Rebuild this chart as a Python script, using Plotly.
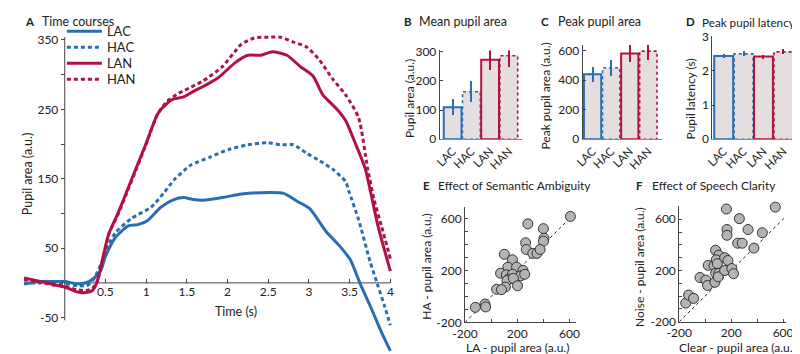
import plotly.graph_objects as go

W, H = 800, 354
FONT = "Lato"
AXC = "#444444"
TXT = "#222222"
BLUE = "#2A6DB0"
RED = "#B2123F"
BARFILL = "#E5DEDE"

# ---------------- Panel A: time courses ----------------
LAC_t = [-0.5, -0.3, -0.15, 0.0, 0.16, 0.27, 0.35, 0.44, 0.5, 0.62, 0.78, 0.9, 1.02, 1.18, 1.34, 1.46, 1.58, 1.70, 1.94, 2.17, 2.41, 2.69, 2.85, 3.01, 3.21, 3.37, 3.51, 3.63, 3.77, 3.89, 4.0]
LAC_v = [-1.5, 2, 2, 2, -1.5, 0.5, 6, 17, 38, 65, 82, 84, 90, 109, 120, 123, 120, 119, 123, 128, 130, 129, 118, 107, 74, 54, 33, -1.5, -38, -71, -98]

HAC_t = [-0.5, -0.3, -0.15, 0.0, 0.16, 0.27, 0.35, 0.46, 0.54, 0.62, 0.82, 1.06, 1.22, 1.34, 1.54, 1.78, 2.01, 2.25, 2.49, 2.65, 2.81, 2.97, 3.13, 3.29, 3.45, 3.49, 3.61, 3.75, 3.84, 3.93, 4.0]
HAC_v = [0, 0, 0, -1, -4, -4, 4, 31, 55, 72, 93, 109, 130, 148, 169, 181, 192, 199, 202, 199, 199, 187, 176, 164, 146, 132, 91, 31, -1.5, -34, -61]

LAN_t = [-0.5, -0.3, -0.15, 0.0, 0.15, 0.26, 0.34, 0.40, 0.46, 0.54, 0.66, 0.78, 0.9, 1.0, 1.14, 1.26, 1.34, 1.46, 1.58, 1.70, 1.89, 2.09, 2.25, 2.41, 2.55, 2.73, 2.89, 3.05, 3.17, 3.33, 3.45, 3.57, 3.69, 3.85, 4.0]
LAN_v = [7, 2, -2, -6, -13, -14, -11, 2, 32, 70, 102, 137, 172, 201, 243, 259, 265, 268, 276, 283, 296, 317, 328, 328, 333, 328, 312, 298, 271, 252, 234, 201, 165, 81, 17]

HAN_t = [-0.5, -0.3, -0.15, 0.0, 0.15, 0.26, 0.34, 0.40, 0.46, 0.54, 0.66, 0.78, 0.9, 1.0, 1.14, 1.26, 1.4, 1.55, 1.70, 1.94, 2.17, 2.33, 2.5, 2.65, 2.81, 2.97, 3.13, 3.29, 3.45, 3.61, 3.72, 3.80, 3.89, 4.0]
HAN_v = [5, 1, -3, -5, -10, -11, -8, 3, 30, 70, 100, 135, 170, 200, 243, 262, 273, 282, 291, 312, 344, 353, 354, 354, 347, 340, 321, 294, 271, 238, 165, 120, 82, 35]

A_xticks = [0.5, 1, 1.5, 2, 2.5, 3, 3.5, 4]
A_xticklabels = ["0.5", "1", "1.5", "2", "2.5", "3", "3.5", "4"]
A_yticks = [-50, 0, 50, 100, 150, 200, 250, 300, 350]
A_yticklabels = ["-50", "", "50", "", "150", "", "250", "", "350"]

# ---------------- Panels B-D: bars ----------------
conditions = ["LAC", "HAC", "LAN", "HAN"]
mean_area = [110, 163, 273, 287]
mean_area_err = [28, 36, 35, 38]
peak_area = [441, 485, 582, 598]
peak_area_err = [50, 55, 60, 63]
peak_latency = [2.44, 2.50, 2.42, 2.56]
peak_latency_err = [0.07, 0.07, 0.06, 0.07]

# ---------------- Panels E-F: scatter ----------------
E_LA = [-121, -47, -42, 101, 281, 400, 607, 405, 400, 264, 269, 319, 351, 375, 163, 128, 195, 244, 72, 116, 163, 227, 257, 133, 121, 170, 202, 109, 42, 79]
E_HA = [-84, -59, -81, 325, 560, 523, 617, 449, 426, 414, 362, 332, 332, 362, 283, 226, 226, 201, 179, 166, 171, 159, 171, 134, 122, 139, 82, 72, 55, 52]
F_clear = [-150, -128, -90, -40, 5, 18, 75, 23, 68, 80, 105, 85, 93, 80, 105, 100, 150, 150, 175, 205, 218, 163, 168, 168, 263, 330, 250, 285, 375, 440, 540]
F_noise = [-55, 8, -18, 145, 125, 83, 108, 240, 238, 358, 320, 283, 253, 178, 178, 150, 200, 300, 278, 215, 175, 680, 520, 475, 605, 520, 413, 413, 375, 495, 695]

sc_yticks = [-200, -100, 0, 100, 200, 300, 400, 500, 600]
sc_yticklabels = ["-200", "", "", "", "200", "", "", "", "600"]
sc_xticks = [-200, 0, 200, 400, 600]
sc_xticklabels = ["-200", "", "200", "", "600"]


def px(x):
    return x / W


def py(y):
    return 1 - y / H


fig = go.Figure()

# ---- A ----
series = [("LAC", LAC_t, LAC_v, BLUE, "solid"),
          ("HAC", HAC_t, HAC_v, BLUE, "4px,3px"),
          ("LAN", LAN_t, LAN_v, RED, "solid"),
          ("HAN", HAN_t, HAN_v, RED, "4px,3px")]
legend_rows = [17, 33.7, 50.3, 67]
legend_ids = ["legend", "legend2", "legend3", "legend4"]
for (name, t, v, c, d), lid in zip(series, legend_ids):
    fig.add_trace(go.Scatter(x=t, y=v, name=name, mode="lines",
                             line=dict(color=c, width=3, dash=d, shape="spline", smoothing=0.6),
                             xaxis="x", yaxis="y", showlegend=True, legend=lid))

A_xrange = [-0.5, 4.02]
A_yrange = [-102, 360]
A_xdom = [px(3.1), px(381)]
A_ydom = [py(352.6), py(18.8)]
x0pos = A_ydom[0] + (0 - A_yrange[0]) / (A_yrange[1] - A_yrange[0]) * (A_ydom[1] - A_ydom[0])
y0pos = A_xdom[0] + (0 - A_xrange[0]) / (A_xrange[1] - A_xrange[0]) * (A_xdom[1] - A_xdom[0])

tickfont = dict(family=FONT, size=12, color=TXT)

layout = dict(
    width=W, height=H, margin=dict(l=0, r=0, t=0, b=0),
    paper_bgcolor="white", plot_bgcolor="rgba(0,0,0,0)",
    font=dict(family=FONT, size=12, color=TXT),
    showlegend=True,
    xaxis=dict(domain=A_xdom, range=A_xrange, anchor="free", position=x0pos,
               showline=False, showgrid=False, zeroline=False,
               tickvals=A_xticks, ticktext=A_xticklabels, ticks="inside", ticklen=4,
               tickcolor=AXC, tickfont=tickfont),
    yaxis=dict(domain=A_ydom, range=A_yrange, anchor="free", position=y0pos,
               showline=False, showgrid=False, zeroline=False,
               tickvals=A_yticks, ticktext=A_yticklabels, ticks="outside", ticklen=4,
               tickcolor=AXC, tickfont=tickfont),
)
for lid, row in zip(legend_ids, legend_rows):
    layout[lid] = dict(x=px(42), y=py(row), xanchor="left", yanchor="middle",
                       font=dict(family=FONT, size=13, color=TXT),
                       bgcolor="rgba(0,0,0,0)", itemwidth=35)

shapes = [
    dict(type="line", xref="x", yref="y", x0=0, x1=A_xticks[-1], y0=0, y1=0,
         line=dict(color=AXC, width=1), layer="below"),
    dict(type="line", xref="x", yref="y", x0=0, x1=0, y0=A_yticks[0] - 4, y1=A_yticks[-1] + 4,
         line=dict(color=AXC, width=1), layer="below"),
]

# ---- B, C, D ----
bar_panels = [
    (2, mean_area, mean_area_err, [0.31, 4.73], [430, 515], [0, 305], [129.3, 36.9],
     [0, 100, 200, 300], 0.95),
    (3, peak_area, peak_area_err, [0.46, 4.72], [576.7, 658], [0, 640], [129.3, 31.2],
     [0, 200, 400, 600], 0.93),
    (4, peak_latency, peak_latency_err, [0.43, 4.59], [710, 795], [0, 3.02], [129.3, 22.0],
     [0, 1, 2, 3], 0.95),
]
colors = [BLUE, BLUE, RED, RED]
dashes = ["solid", "dot", "solid", "dot"]
for k, vals, errs, xr, xd, yr, yd, yt, bw in bar_panels:
    xa, ya = f"x{k}", f"y{k}"
    for i, cond in enumerate(conditions):
        xc = i + 1
        fig.add_trace(go.Bar(x=[xc], y=[vals[i]], width=bw, xaxis=xa, yaxis=ya,
                             marker=dict(color=BARFILL, line=dict(width=0)),
                             error_y=dict(type="data", array=[errs[i]], color=colors[i],
                                          thickness=2, width=0),
                             showlegend=False))
        fig.add_trace(go.Scatter(x=[xc - bw / 2, xc - bw / 2, xc + bw / 2, xc + bw / 2, xc - bw / 2],
                                 y=[0, vals[i], vals[i], 0, 0], mode="lines",
                                 line=dict(color=colors[i], width=2 if dashes[i] == "solid" else 1.6,
                                           dash=dashes[i]),
                                 xaxis=xa, yaxis=ya, showlegend=False, hoverinfo="skip"))
    layout[f"xaxis{k}"] = dict(domain=[px(xd[0]), px(xd[1])], range=xr, anchor=ya,
                               showline=True, linecolor="#888888", linewidth=1, mirror=False,
                               showgrid=False, zeroline=False,
                               tickvals=[1, 2, 3, 4], ticktext=conditions, tickangle=-45,
                               ticks="", tickfont=dict(family=FONT, size=11.5, color=TXT))
    layout[f"yaxis{k}"] = dict(domain=[py(yd[0]), py(yd[1])], range=yr, anchor=xa,
                               showline=True, linecolor=AXC, linewidth=1,
                               showgrid=False, zeroline=False,
                               tickvals=yt, ticks="inside", ticklen=3, tickcolor=AXC,
                               tickfont=tickfont)

# ---- E, F ----
scat_panels = [
    (5, E_LA, E_HA, [-200, 650], [456, 570], [-200, 690], [320, 199.9]),
    (6, F_clear, F_noise, [-200, 620], [676, 785.3], [-200, 705], [319.3, 198.7]),
]
for k, xs, ys, xr, xd, yr, yd in scat_panels:
    xa, ya = f"x{k}", f"y{k}"
    fig.add_trace(go.Scatter(x=[xr[0], xr[1]], y=[xr[0], xr[1]], mode="lines",
                             line=dict(color="#222222", width=1, dash="dot"),
                             xaxis=xa, yaxis=ya, showlegend=False, hoverinfo="skip"))
    fig.add_trace(go.Scatter(x=xs, y=ys, mode="markers",
                             marker=dict(size=10, color="#B4B4B4",
                                         line=dict(color="#222222", width=0.9)),
                             xaxis=xa, yaxis=ya, showlegend=False, cliponaxis=False))
    layout[f"xaxis{k}"] = dict(domain=[px(xd[0]), px(xd[1])], range=xr, anchor=ya,
                               showline=True, linecolor=AXC, linewidth=1,
                               showgrid=False, zeroline=False,
                               tickvals=sc_xticks, ticktext=sc_xticklabels,
                               ticks="inside", ticklen=3, tickcolor=AXC, tickfont=tickfont)
    layout[f"yaxis{k}"] = dict(domain=[py(yd[0]), py(yd[1])], range=yr, anchor=xa,
                               showline=True, linecolor=AXC, linewidth=1,
                               showgrid=False, zeroline=False,
                               tickvals=sc_yticks, ticktext=sc_yticklabels,
                               ticks="inside", ticklen=3, tickcolor=AXC, tickfont=tickfont)

# ---- text annotations ----
ann = []


def text(x, y, s, size=12, angle=0, xanchor="center", bold=False):
    ann.append(dict(x=px(x), y=py(y), xref="paper", yref="paper", text=f"<b>{s}</b>" if bold else s,
                    showarrow=False, textangle=angle, xanchor=xanchor, yanchor="middle",
                    font=dict(family=FONT, size=size, color=TXT)))


# panel titles
for letter, lx, title, tx, ty, ts in [("A", 2, "Time courses", 19, 7, 12.5),
                                      ("B", 391, "Mean pupil area", 407, 7, 12.5),
                                      ("C", 532, "Peak pupil area", 549, 7, 12.5),
                                      ("D", 681, "Peak pupil latency", 697, 7, 11.7),
                                      ("E", 411, "Effect of Semantic Ambiguity", 426, 178, 12),
                                      ("F", 630, "Effect of Speech Clarity", 646, 178, 12)]:
    text(lx, ty, letter, size=11.5, xanchor="left", bold=True)
    text(tx, ty, title, size=ts, xanchor="left")

# axis titles
text(7, 165, "Pupil area (a.u.)", size=12.5, angle=-90)
text(221, 309, "Time (s)", size=12.5)
text(399, 87, "Pupil area (a.u.)", size=12, angle=-90)
text(539, 84, "Peak pupil area (a.u.)", size=12, angle=-90)
text(688, 87, "Pupil latency (s)", size=12, angle=-90)
text(417, 262, "HA - pupil area (a.u.)", size=12, angle=-90)
text(510, 346.5, "LA - pupil area (a.u.)", size=12)
text(635, 262, "Noise - pupil area (a.u.)", size=12, angle=-90)
text(736, 346.5, "Clear - pupil area (a.u.)", size=12)

layout["annotations"] = ann
layout["shapes"] = shapes
layout["bargap"] = 0
fig.update_layout(**layout)

fig.write_html("out.html")
